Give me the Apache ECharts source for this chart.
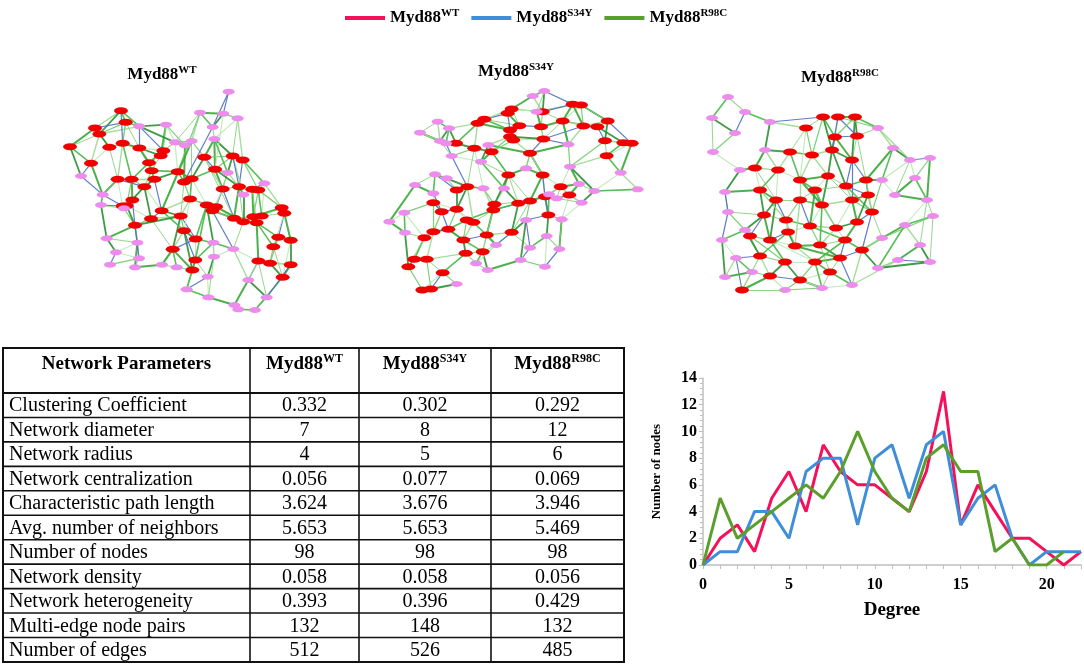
<!DOCTYPE html>
<html>
<head>
<meta charset="utf-8">
<script src="https://cdn.jsdelivr.net/npm/echarts@6/dist/echarts.min.js"></script>
<style>
html,body{margin:0;padding:0;background:#fff;}
#main{width:1084px;height:665px;}
</style>
</head>
<body>
<div id="main"></div>
<script>
// ---------------- DATA ----------------
const variantBase = 'Myd88';
const variantSups = ['WT', 'S34Y', 'R98C'];
const variantNames = ['Myd88WT', 'Myd88S34Y', 'Myd88R98C'];

// degree distribution
const degrees   = [0,1,2,3,4,5,6,7,8,9,10,11,12,13,14,15,16,17,18,19,20,21,22];
const wtCounts   = [0,2,3,1,5,7,4,9,7,6,6,5,4,7,13,3,6,4,2,2,1,0,1];
const s34yCounts = [0,1,1,4,4,2,7,8,8,3,8,9,5,9,10,3,5,6,2,0,1,1,1];
const r98cCounts = [0,5,2,3,4,5,6,5,7,10,7,5,4,8,9,7,7,1,2,0,0,1];
const xTickLabels = [0,5,10,15,20];

// network parameter table
const tableHeader = 'Network Parameters';
const paramNames = ['Clustering Coefficient','Network diameter','Network radius','Network centralization',
  'Characteristic path length','Avg. number of neighbors','Number of nodes','Network density',
  'Network heterogeneity','Multi-edge node pairs','Number of edges'];
const wtParams   = ['0.332','7','4','0.056','3.624','5.653','98','0.058','0.393','132','512'];
const s34yParams = ['0.302','8','5','0.077','3.676','5.653','98','0.058','0.396','148','526'];
const r98cParams = ['0.292','12','6','0.069','3.946','5.469','98','0.056','0.429','132','485'];

// networks (layout coordinates; hub = red, other = pink)
const net1Hub = [[243,152],[257,187],[165,204],[178,222],[90,260],[208,262],[248,250],[298,264],[153,310],[370,272],
  [362,287],[327,308],[335,332],[343,358],[233,358],[275,358],[313,380],[413,335],[432,366],[455,356],
  [493,292],[525,328],[578,288],[608,300],[548,387],[597,380],[637,388],[655,390],[277,420],[260,437],
  [248,438],[450,417],[500,435],[528,440],[517,452],[365,452],[333,476],[422,468],[285,496],[582,475],
  [610,485],[640,470],[665,468],[650,488],[725,443],[733,460],[432,512],[467,537],[715,532],[752,541],
  [398,568],[700,560],[466,600],[457,630],[655,603],[690,610],[752,614],[728,652]];
const net1Other = [[566,95],[480,158],[550,161],[593,175],[298,199],[378,194],[518,201],[523,237],[405,247],[435,256],
  [455,243],[123,348],[563,338],[673,370],[610,404],[188,404],[183,435],[252,445],[200,535],[292,548],
  [520,548],[580,567],[228,577],[210,614],[297,595],[285,622],[366,614],[410,622],[522,590],[503,650],
  [440,688],[625,660],[505,712],[680,712],[583,735],[595,748],[645,750]];
const net1Edges = '0-1 0-2 0-3 1-2 1-3 2-3 2-4 3-4 4-8 3-8 4-69 8-69 5-6 5-8 6-7 1-7 1-62 3-62 62-63 7-62 5-3 6-1 8-73 5-14 6-15 7-12 7-10 62-9 63-67 ' +
  '9-10 9-11 10-11 11-12 12-13 13-16 14-15 15-16 14-30 15-28 16-28 12-17 9-66 66-67 67-68 68-20 66-17 67-18 68-19 17-18 18-19 19-20 20-21 21-22 22-23 ' +
  '20-65 65-64 64-59 59-68 64-60 60-58 60-61 61-65 65-21 59-66 21-70 70-24 22-70 23-25 24-25 25-26 26-27 27-71 71-23 26-72 72-25 24-33 31-32 32-33 33-34 ' +
  '32-34 31-19 31-37 37-35 35-36 36-38 28-29 29-30 30-75 73-74 74-75 73-14 74-30 75-38 29-36 38-76 76-77 38-77 77-82 76-80 80-81 81-82 82-83 83-84 84-85 ' +
  '85-50 50-46 46-47 47-37 46-37 47-52 52-53 53-85 52-78 78-86 86-87 87-88 88-53 87-90 90-92 92-93 93-94 94-91 91-89 89-54 54-55 55-56 56-57 57-51 51-48 ' +
  '48-49 49-56 48-45 45-44 44-42 42-41 41-43 43-40 40-39 39-34 39-24 41-27 42-71 43-54 40-79 79-78 79-89 32-78 34-79 55-51 54-79 45-49 44-27 43-48 35-31 ' +
  '36-16 35-13 18-31 17-35 10-63 9-63 11-15 13-14 16-29 28-38 20-22 19-32 21-24 70-33 32-47 33-39 37-50 46-52 50-84 86-79 89-92 91-54 57-94 54-56 76-74 ' +
  '73-69 14-73 80-77 83-77 36-50 47-78 23-61 22-65 58-64 27-44 45-51 26-41 25-40 0-62 6-14 62-66 64-18 59-17 60-21 68-35 20-39 32-52 22-72 ' +
  '2-5 0-6 1-6 7-9 7-11 10-12 11-13 12-16 13-17 14-16 15-29 16-35 17-19 18-37 19-21 20-24 21-25 22-25 23-27 24-34 25-39 26-43 27-42 28-30 29-38 30-73 ' +
  '31-33 31-46 33-40 34-40 35-46 36-37 37-38 38-82 39-41 40-41 41-44 42-45 43-51 44-71 46-53 47-50 48-55 49-57 50-53 52-87 53-88 54-89 55-57 56-91 ' +
  '66-68 63-66 59-60 61-22 65-70 70-25 72-40 71-26 75-29 80-82 84-50 86-90 88-90';

const net2Hub = [[608,133],[633,135],[425,147],[413,160],[518,155],[343,178],[323,190],[448,197],[420,210],[420,230],
  [430,240],[513,200],[520,237],[578,183],[640,198],[682,200],[713,183],[705,242],[760,248],[785,250],
  [710,287],[258,250],[313,265],[365,275],[480,280],[415,345],[518,345],[572,380],[598,405],[525,410],
  [480,423],[445,430],[260,390],[292,380],[190,428],[215,455],[260,448],[373,433],[370,450],[290,480],
  [310,487],[535,465],[425,517],[350,525],[190,515],[235,508],[163,533],[280,540],[287,580],[338,575],
  [133,598],[170,598],[115,620],[218,638],[157,690],[183,687]];
const net2Other = [[488,108],[523,93],[500,155],[203,185],[237,205],[150,218],[210,243],[228,250],[355,255],[245,288],
  [333,305],[468,325],[595,253],[600,320],[752,338],[803,388],[673,393],[627,372],[635,428],[537,403],
  [560,415],[195,343],[230,355],[135,375],[340,385],[402,385],[190,400],[103,458],[58,485],[105,518],
  [468,480],[575,478],[530,528],[378,555],[480,563],[568,567],[318,610],[452,600],[353,630],[525,620],[260,672]];
const net2Edges = '56-57 56-4 57-4 57-0 0-1 1-13 0-13 0-58 58-4 4-11 2-3 3-5 2-4 5-6 6-8 5-7 7-8 8-9 9-10 7-11 11-12 12-10 11-13 13-14 14-15 15-16 16-1 ' +
  '15-17 17-18 18-19 19-70 17-20 20-70 14-68 68-13 68-12 68-69 69-27 69-73 73-72 72-71 70-71 72-74 74-28 28-27 27-29 29-75 75-76 76-28 29-26 26-24 24-12 ' +
  '24-10 24-67 67-25 25-23 23-64 64-9 23-22 22-21 21-63 63-62 62-61 61-59 59-60 60-6 60-62 63-65 65-22 65-66 66-23 66-25 25-81 81-37 37-38 38-31 31-30 ' +
  '30-29 30-26 31-25 80-33 33-32 32-36 36-35 35-34 34-82 82-79 79-77 77-78 78-32 78-33 82-35 34-83 83-84 84-85 85-46 83-85 46-44 44-45 45-35 45-36 36-39 ' +
  '39-40 40-38 40-43 43-42 42-86 86-41 41-87 87-74 41-29 42-90 90-88 88-91 91-87 90-93 93-95 95-88 93-94 94-92 92-49 49-48 48-47 47-43 47-45 49-89 89-43 ' +
  '89-42 48-53 53-96 96-55 55-54 54-52 52-50 50-51 51-53 50-46 51-44 52-85 53-55 37-80 80-22 64-24 2-7 6-21 5-2 9-12 3-8 10-23 26-27 67-26 30-37 38-39 ' +
  '33-40 31-42 29-41 86-30 87-28 28-73 76-27 75-41 19-17 16-17 14-12 15-13 58-11 0-14 1-16 18-20 20-69 69-72 32-77 44-34 46-83 79-84 62-65 61-63 48-92 ' +
  '93-86 95-91 39-47 36-34 24-68 25-30 66-81 59-62 21-60 ' +
  '0-4 1-14 2-58 3-7 4-13 5-8 6-22 7-9 8-10 9-23 10-24 11-58 12-13 13-68 14-16 15-18 16-19 17-69 19-20 21-22 22-33 23-25 24-26 25-37 26-29 27-75 28-74 ' +
  '29-31 30-42 31-38 32-33 33-36 34-35 35-44 36-40 37-43 38-43 39-45 40-47 41-88 42-89 43-49 44-46 45-47 46-52 47-49 48-51 49-94 50-52 51-55 53-54 56-2 ' +
  '57-58 60-63 61-62 64-66 65-33 67-24 70-72 73-27 74-76 77-82 80-38 81-31 86-90 87-91 89-92';

const net3Hub = [[399,171],[444,171],[495,171],[348,204],[435,231],[501,228],[300,276],[366,285],[426,270],[486,300],
  [528,360],[264,330],[330,360],[414,348],[468,378],[210,390],[258,420],[330,420],[396,435],[486,420],
  [222,465],[288,480],[360,498],[438,504],[501,486],[546,456],[180,528],[240,540],[315,558],[390,555],
  [465,540],[210,588],[285,606],[375,606],[450,594],[240,648],[330,660],[156,690],[534,405],[195,324],
  [375,390],[294,516],[516,570],[420,636]];
const net3Other = [[114,111],[66,174],[165,156],[135,219],[69,276],[150,330],[240,186],[564,204],[609,264],[660,300],
  [720,294],[675,354],[615,405],[711,420],[729,468],[645,495],[690,555],[624,600],[564,624],[720,606],
  [576,534],[105,396],[114,456],[96,540],[138,594],[105,651],[186,636],[285,690],[396,684],[486,675],
  [225,270],[576,360],[165,510]];
const net3Edges = '44-45 44-46 45-47 46-47 47-48 48-49 49-39 45-48 46-50 50-3 50-74 74-6 74-39 0-1 1-2 0-3 0-4 1-4 2-5 4-5 3-7 3-6 4-8 5-9 2-51 51-52 ' +
  '52-53 53-54 54-55 55-53 52-10 51-5 6-7 7-8 8-9 9-10 6-11 11-12 12-13 13-14 14-10 7-12 8-13 9-14 11-39 39-15 15-16 16-17 17-18 18-19 19-38 38-10 38-25 ' +
  '40-13 40-18 40-17 12-40 14-19 15-20 16-21 17-21 18-22 19-24 20-21 21-22 22-23 23-24 24-25 25-75 75-56 56-57 57-58 58-59 59-60 60-63 63-61 61-62 62-42 ' +
  '59-64 64-25 64-42 56-55 75-10 20-26 26-27 27-28 28-29 29-30 30-42 21-41 41-28 41-27 22-29 23-30 24-30 26-31 27-32 28-33 29-34 30-34 31-32 32-33 33-34 ' +
  '34-43 43-33 31-35 32-35 35-36 36-33 36-43 35-37 37-70 70-68 68-69 69-67 67-66 66-65 65-49 65-15 66-20 67-76 76-26 76-31 68-31 71-36 71-35 72-36 72-43 ' +
  '73-43 73-42 42-62 34-42 58-64 57-59 54-57 53-56 52-75 10-25 2-9 1-8 0-7 3-11 6-74 39-16 11-15 12-17 13-18 14-38 19-25 22-41 40-22 40-23 18-29 17-28 ' +
  '16-27 37-68 71-72 72-73 60-61 63-58 55-57 51-53 ' +
  '0-8 1-5 2-4 3-12 4-9 5-10 6-12 7-13 8-14 9-19 10-38 11-16 12-18 13-19 14-25 15-21 16-20 17-22 18-23 19-23 20-27 21-28 22-30 23-29 24-38 25-42 26-32 ' +
  '27-33 28-34 29-43 30-33 31-37 32-36 34-73 35-70 36-72 39-74 40-14 41-31 42-64 49-65 50-0 51-1 53-75 55-56 57-60 59-62 61-73 63-62 65-66 66-76 67-68 ' +
  '69-70 71-37 72-33 74-11 76-20';

// ---------------- STYLE / BUILD ----------------
const SERIF = "'Liberation Serif','Times New Roman',serif";
const lineColors = ['#f4115a', '#3f8fd8', '#5a9e2c'];
const edgePalette = ['#45b845','#9ad98f','#2a9032','#4f6fbf','#6fcb69','#b8e8b0','#38a838','#86d37c'];
const edgeWidths  = [1.6, 1.2, 2.0, 1.4, 1.2, 1.0, 1.8, 1.1];

function supRich(base, sup, size, supSize) {
  return {
    text: '{a|' + base + '}{b|' + sup + '}',
    rich: {
      a: {fontFamily: SERIF, fontWeight: 'bold', fontSize: size, lineHeight: size + 4, verticalAlign: 'middle', fill: '#000', color: '#000'},
      b: {fontFamily: SERIF, fontWeight: 'bold', fontSize: supSize, lineHeight: supSize, verticalAlign: 'top', fill: '#000', color: '#000'}
    }
  };
}

function parseEdges(str, n) {
  return str.trim().split(/\s+/).map(s => s.split('-').map(Number))
    .filter(p => p.length === 2 && p[0] < n && p[1] < n && p[0] >= 0 && p[1] >= 0);
}

function buildGraph(hub, other, edgeStr, gridIdx) {
  const nodes = [];
  hub.forEach(p => nodes.push({value: p, symbol: 'circle', symbolSize: [14, 7], itemStyle: {color: '#f20000'}}));
  other.forEach(p => nodes.push({value: p, symbol: 'circle', symbolSize: [12, 6], itemStyle: {color: '#ee8cee'}}));
  const links = parseEdges(edgeStr, nodes.length).map((e, i) => ({
    source: e[0], target: e[1],
    lineStyle: {color: edgePalette[i % edgePalette.length], width: edgeWidths[(i * 3) % edgeWidths.length], opacity: 0.9}
  }));
  return {
    type: 'graph', coordinateSystem: 'cartesian2d', xAxisIndex: gridIdx, yAxisIndex: gridIdx,
    data: nodes, links: links, silent: true, animation: false, z: 2,
    lineStyle: {curveness: 0},
    emphasis: {disabled: true}
  };
}

// table graphics
const colX = [3, 250, 359, 491, 624];
const tableTop = 348, headerBottom = 393, rowH = 24.45;
const tableBottom = headerBottom + rowH * paramNames.length;
const tableEls = [];
tableEls.push({type: 'rect', shape: {x: colX[0], y: tableTop, width: colX[4] - colX[0], height: tableBottom - tableTop},
  style: {fill: 'none', stroke: '#111', lineWidth: 2}});
for (let i = 1; i < colX.length - 1; i++) {
  tableEls.push({type: 'line', shape: {x1: colX[i], y1: tableTop, x2: colX[i], y2: tableBottom}, style: {stroke: '#111', lineWidth: 1.6}});
}
for (let r = 0; r < paramNames.length; r++) {
  const y = headerBottom + rowH * r;
  tableEls.push({type: 'line', shape: {x1: colX[0], y1: y, x2: colX[4], y2: y}, style: {stroke: '#111', lineWidth: r === 0 ? 2 : 1.6}});
}
tableEls.push({type: 'text', x: (colX[0] + colX[1]) / 2, y: 364,
  style: {text: tableHeader, fontFamily: SERIF, fontWeight: 'bold', fontSize: 19, fill: '#000', align: 'center', verticalAlign: 'middle'}});
variantSups.forEach((s, i) => {
  const st = supRich(variantBase, s, 19, 12);
  tableEls.push({type: 'text', x: (colX[i + 1] + colX[i + 2]) / 2, y: 364,
    style: Object.assign(st, {align: 'center', verticalAlign: 'middle'})});
});
const valueCols = [wtParams, s34yParams, r98cParams];
paramNames.forEach((name, r) => {
  const cy = headerBottom + rowH * r + rowH / 2 + 1;
  tableEls.push({type: 'text', x: 9, y: cy,
    style: {text: name, fontFamily: SERIF, fontSize: 20, fill: '#000', align: 'left', verticalAlign: 'middle'}});
  valueCols.forEach((col, c) => {
    tableEls.push({type: 'text', x: (colX[c + 1] + colX[c + 2]) / 2, y: cy,
      style: {text: col[r], fontFamily: SERIF, fontSize: 20, fill: '#000', align: 'center', verticalAlign: 'middle'}});
  });
});

// network titles
const titleX = [162, 516, 840];
const titleY = [75, 72, 78];
variantSups.forEach((s, i) => {
  const st = supRich(variantBase, s, 17, 11);
  tableEls.push({type: 'text', x: titleX[i], y: titleY[i], style: Object.assign(st, {align: 'center', verticalAlign: 'middle'})});
});

const countSets = [wtCounts, s34yCounts, r98cCounts];
const lineSeries = variantNames.map((nm, i) => ({
  name: nm, type: 'line', xAxisIndex: 0, yAxisIndex: 0,
  data: countSets[i].map((v, k) => [degrees[k], v]),
  showSymbol: false, symbol: 'none', animation: false,
  lineStyle: {color: lineColors[i], width: 3}, itemStyle: {color: lineColors[i]}, z: 3
}));

const hiddenAxis = (gi, max, inv) => ({gridIndex: gi, type: 'value', min: 0, max: max, inverse: !!inv, show: false,
  axisLine: {show: false}, splitLine: {show: false}, axisLabel: {show: false}, axisTick: {show: false}});

const option = {
  backgroundColor: '#fff',
  animation: false,
  legend: {
    data: variantNames, left: 340, top: 3, orient: 'horizontal',
    icon: 'rect', itemWidth: 40, itemHeight: 4, itemGap: 12,
    selectedMode: false,
    formatter: function (name) {
      const s = variantSups[variantNames.indexOf(name)];
      return '{a|' + variantBase + '}{b|' + s + '}';
    },
    textStyle: {
      rich: {
        a: {fontFamily: SERIF, fontWeight: 'bold', fontSize: 17, lineHeight: 20, verticalAlign: 'middle', color: '#000'},
        b: {fontFamily: SERIF, fontWeight: 'bold', fontSize: 11, lineHeight: 11, verticalAlign: 'top', color: '#000'}
      }
    }
  },
  grid: [
    {left: 703, top: 378, width: 378, height: 187, containLabel: false},
    {left: 40, top: 60, width: 300, height: 250},
    {left: 370, top: 60, width: 300, height: 250},
    {left: 690, top: 60, width: 270, height: 250}
  ],
  xAxis: [
    {gridIndex: 0, type: 'value', min: 0, max: 22, interval: 1,
      name: 'Degree', nameLocation: 'middle', nameGap: 36,
      nameTextStyle: {fontFamily: SERIF, fontWeight: 'bold', fontSize: 19, color: '#000'},
      axisLine: {show: true, onZero: false, lineStyle: {color: '#bfbfbf', width: 1.5}},
      axisTick: {show: true, length: 4, lineStyle: {color: '#bfbfbf'}},
      splitLine: {show: false},
      axisLabel: {margin: 12, fontFamily: SERIF, fontWeight: 'bold', fontSize: 16, color: '#000',
        formatter: v => (xTickLabels.indexOf(v) >= 0 ? String(v) : '')}},
    hiddenAxis(1, 900), hiddenAxis(2, 900), hiddenAxis(3, 810)
  ],
  yAxis: [
    {gridIndex: 0, type: 'value', min: 0, max: 14, interval: 2,
      name: 'Number of nodes', nameLocation: 'middle', nameGap: 40, nameRotate: 90,
      nameTextStyle: {fontFamily: SERIF, fontWeight: 'bold', fontSize: 13, color: '#000'},
      axisLine: {show: true, lineStyle: {color: '#bfbfbf', width: 1.5}},
      axisTick: {show: true, length: 4, lineStyle: {color: '#bfbfbf'}},
      minorTick: {show: true, splitNumber: 5, length: 3, lineStyle: {color: '#bfbfbf'}},
      splitLine: {show: false},
      axisLabel: {margin: 6, fontFamily: SERIF, fontWeight: 'bold', fontSize: 16, color: '#000'}},
    hiddenAxis(1, 750, true), hiddenAxis(2, 750, true), hiddenAxis(3, 750, true)
  ],
  graphic: {elements: tableEls},
  series: [
    buildGraph(net1Hub, net1Other, net1Edges, 1),
    buildGraph(net2Hub, net2Other, net2Edges, 2),
    buildGraph(net3Hub, net3Other, net3Edges, 3)
  ].concat(lineSeries)
};

const chart = echarts.init(document.getElementById('main'), null, {renderer: 'canvas'});
chart.setOption(option);
</script>
</body>
</html>
